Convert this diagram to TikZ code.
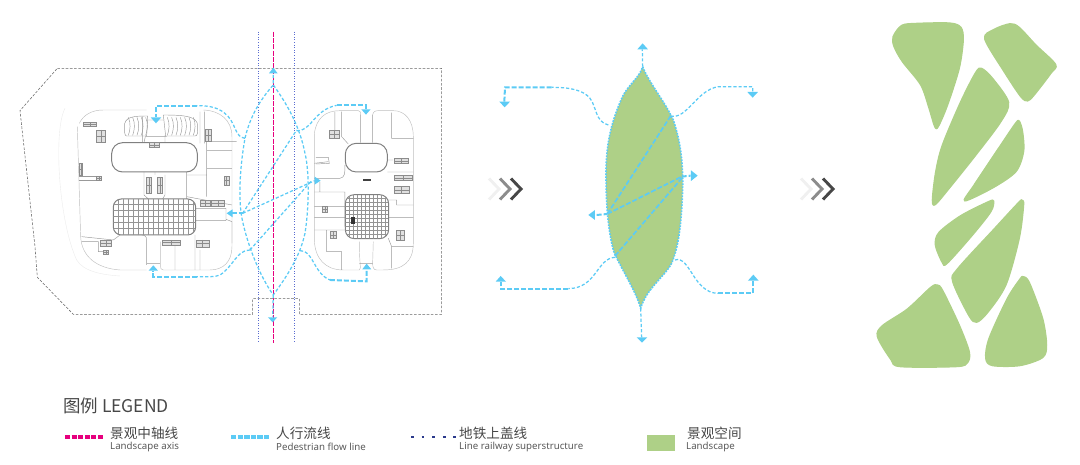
\documentclass[tikz,border=0pt]{standalone}
\usepackage{fontspec}
\setmainfont{Noto Sans}
\newfontfamily\cjk{Noto Sans CJK SC}
\definecolor{flow}{HTML}{5CCBF5}
\definecolor{leaf}{HTML}{AED087}
\definecolor{axisc}{HTML}{E6007E}
\definecolor{rail}{HTML}{5A6CD0}
\definecolor{railkey}{HTML}{2B3A8C}
\tikzset{
 flowline/.style={draw=flow,line width=2pt,dash pattern=on 5pt off 2pt},
 flowthin/.style={draw=flow,line width=1.25pt,dash pattern=on 3.2pt off 2pt},
 flowhead/.style={fill=flow,draw=none},
 site/.style={draw=black!60,line width=.55pt,dash pattern=on 2.6pt off 1.6pt},
 railline/.style={draw=rail,line width=.8pt,dash pattern=on .9pt off 1.7pt},
 axisline/.style={draw=axisc,line width=1.2pt,dash pattern=on 5pt off 1.3pt},
 wallline/.style={draw=black!40,line width=.45pt},
 outline/.style={draw=black!25,line width=.45pt},
 faint/.style={draw=black!8,line width=.4pt},
 heavy/.style={draw=black!50,line width=1pt},
 grid/.style={draw=black!42,line width=.35pt},
 room/.style={draw=black!45,line width=.4pt,fill=black!12},
 blob/.style={fill=leaf,draw=leaf,line width=1.2pt,line join=round},
 zh/.style={inner sep=0pt,anchor=west,font=\cjk\fontsize{13.6}{14}\selectfont,text=black!72},
 en/.style={inner sep=0pt,anchor=west,font=\fontsize{9.7}{10}\selectfont,text=black!65},
}
\newcommand{\chev}[3]{\draw[draw=#3,line width=2.9pt] (#1,#2-10.5) -- (#1+10,#2) -- (#1,#2+10.5);}
\begin{document}
\begin{tikzpicture}[x=1pt,y=-1pt]
\useasboundingbox (0,0) rectangle (1080,464);
% ---------- plan
\begin{scope}[x=.3333pt,y=-.3333pt,xshift=20pt,yshift=-20pt]
 \draw[site] (112,145) -- (1265,145) -- (1265,883) -- (838,883) -- (838,836) -- (698,836) -- (698,883) -- (160,883) -- (52,772) -- (45,680) -- (0,272) -- cycle;
 % left building
 \draw[outline] (178,310) .. controls (190,285) and (215,270) .. (250,270) -- (380,270);
 \draw[outline] (550,270) .. controls (600,272) and (636,300) .. (636,350) -- (636,680) .. controls (636,725) and (610,750) .. (570,750) -- (430,750) .. controls (422,750) and (422,745) .. (422,735) -- (422,665);
 \draw[outline] (172,320) -- (182,650) .. controls (185,710) and (230,745) .. (300,750) -- (380,750);
 \draw[faint] (135,265) .. controls (100,330) and (115,600) .. (170,720) .. controls (190,755) and (250,765) .. (300,768);
 \draw[wallline] (380,735) -- (380,660) .. controls (380,650) and (375,645) .. (365,645) -- (300,645) -- (280,660) -- (185,650) (185,665) -- (235,665) -- (235,695) -- (262,695)
   (380,730) -- (420,730) (465,675) -- (465,750) (525,665) -- (525,750) (540,690) -- (540,750) (525,645) -- (525,665)
   (540,275) -- (540,370) (553,275) -- (553,370) 
   (368,290) -- (368,368) (435,345) -- (435,368) (560,365) -- (650,365) (560,392) -- (636,392) (560,445) -- (636,445) (560,365) -- (560,465) -- (500,465) -- (500,530) (560,465) -- (560,530)
   (528,602) -- (618,602) -- (618,565) -- (528,565) (618,598) -- (636,605) -- (636,670) (500,456) -- (500,537)
   (372,456) -- (372,525) -- (385,537) (435,465) -- (435,525) -- (428,537) (405,456) -- (405,465)
   (500,530) -- (636,555);
 % left fan
 \draw[wallline] (313,320) .. controls (313,290) and (340,288) .. (383,288) -- (380,348) -- (320,348) .. controls (315,348) and (313,340) .. (313,320);
 \draw[wallline] (533,318) .. controls (533,290) and (500,285) .. (430,285) -- (437,348) -- (525,348) .. controls (533,348) and (533,340) .. (533,318);
 \foreach \x in {325,338,351,364,377,442,455,468,481,494,507,520}{\draw[wallline] (\x,292) .. controls (\x+8,310) and (\x+6,330) .. (\x,346);}
 \draw[wallline] (383,300) -- (430,300) (376,350) -- (440,350) (376,350) -- (372,368);
 % left rounded hall
 \draw[heavy,rounded corners=11pt] (275,368) rectangle (532,456);
 % left atrium
 \draw[heavy,rounded corners=8pt] (280,537) rectangle (527,645);
 \begin{scope}
  \clip[rounded corners=8pt] (280,537) rectangle (527,645);
  \foreach \x in {295,310,...,520}{\draw[grid] (\x,537) -- (\x,645);}
  \foreach \y in {552,570,588,606,624}{\draw[grid] (280,\y) -- (527,\y);}
 \end{scope}
 % left rooms
 \foreach \a/\b/\c/\d in {388/368/418/382, 230/330/255/368, 555/328/575/365, 380/472/395/520, 412/472/428/520, 542/542/572/558, 575/542/612/558, 612/468/627/495, 427/660/480/675, 528/660/568/682, 240/660/275/678, 250/690/265/702, 178/430/186/465, 228/468/245/482, 190/308/230/318}{
   \draw[room] (\a,\b) rectangle (\c,\d);
   \draw[draw=black!45,line width=.3pt] (\a,{(\b+\d)/2}) -- (\c,{(\b+\d)/2}) ({(\a+\c)/2},\b) -- ({(\a+\c)/2},\d);}
 \draw[wallline] (178,468) -- (228,468) (178,482) -- (228,482);
 % right building
 \draw[outline] (883,340) .. controls (890,295) and (915,272) .. (960,272) -- (1015,272) .. controls (1022,272) and (1022,278) .. (1022,285);
 \draw[outline] (1058,285) .. controls (1060,275) and (1065,272) .. (1075,272) -- (1120,272) .. controls (1155,272) and (1180,300) .. (1180,350) -- (1180,670) .. controls (1180,725) and (1150,750) .. (1090,750) -- (1070,750) .. controls (1060,750) and (1058,740) .. (1058,730) -- (1060,665);
 \draw[outline] (883,340) -- (883,660) .. controls (885,715) and (915,750) .. (970,750) -- (1018,750) .. controls (1025,745) and (1018,735) .. (1018,665);
 \draw[wallline] (965,275) -- (965,350) -- (985,372) (945,275) -- (945,330) (1022,285) -- (1022,368) (1058,285) -- (1058,368) (1115,278) -- (1115,355) -- (1180,355)
   (1102,420) -- (1120,420) (1102,456) -- (1180,456) (883,430) -- (925,425)
   (883,516) -- (975,516) -- (975,620) (883,475) -- (960,475) .. controls (975,472) and (975,460) .. (975,435)
   (900,485) -- (900,516)
   (883,560) -- (975,560) (883,592) -- (975,592) (883,630) -- (975,630) (920,630) -- (920,695) -- (965,695) -- (965,750)
   (1105,540) -- (1130,540) -- (1130,555) -- (1180,555) (1105,592) -- (1180,592) (1105,655) -- (1115,680) -- (1180,680) (1115,680) -- (1115,745)
   (1018,730) -- (1058,730);
 \draw[heavy,rounded corners=11pt] (976,370) rectangle (1102,456);
 \draw[heavy,rounded corners=9pt] (976,524) rectangle (1106,656);
 \begin{scope}
  \clip[rounded corners=9pt] (976,524) rectangle (1106,656);
  \foreach \x in {988,1000,...,1100}{\draw[grid] (\x,524) -- (\x,656);}
  \foreach \y in {536,548,...,650}{\draw[grid] (976,\y) -- (1106,\y);}
 \end{scope}
 \fill[black!80] (992,590) rectangle (1004,612);
 \fill[black!75] (1028,476) rectangle (1052,482);
 \foreach \a/\b/\c/\d in {928/332/958/355, 1122/415/1165/430, 1122/467/1178/482, 1122/500/1168/520, 908/560/922/576, 930/635/948/655, 1128/632/1152/660}{
   \draw[room] (\a,\b) rectangle (\c,\d);
   \draw[draw=black!45,line width=.3pt] (\a,{(\b+\d)/2}) -- (\c,{(\b+\d)/2}) ({(\a+\c)/2},\b) -- ({(\a+\c)/2},\d);}
 \draw[wallline] (888,412) -- (925,412) -- (928,430) -- (888,432);
 % rail and axis
 \draw[railline] (714,35) -- (714,970);
 \draw[railline] (824,35) -- (824,970);
 \draw[axisline] (760,35) -- (760,970);
 % flows
 \draw[flowthin] (760,165) -- (760,195) .. controls (720,240) and (690,290) .. (675,355) .. controls (660,440) and (655,530) .. (665,590) .. controls (680,670) and (720,770) .. (760,825) .. controls (800,770) and (840,710) .. (855,640) .. controls (868,560) and (868,450) .. (855,400) .. controls (840,320) and (800,250) .. (760,195);
 \draw[flowthin] (760,825) -- (758,890);
 \draw[flowline] (635,580) -- (668,580);
 \draw[flowthin] (668,580) -- (830,330);
 \draw[flowthin] (668,580) -- (884,482);
 \draw[flowthin] (690,690) -- (875,482);
 \draw[flowthin] (675,355) .. controls (645,350) and (650,320) .. (625,290) .. controls (600,262) and (570,257) .. (530,257);
 \draw[flowline] (530,257) -- (408,257) -- (408,292);
 \draw[flowthin] (830,332) .. controls (875,335) and (880,270) .. (950,256);
 \draw[flowline] (950,256) -- (1038,256) -- (1038,268);
 \draw[flowthin] (690,690) .. controls (650,690) and (640,740) .. (600,765) .. controls (585,772) and (560,770) .. (530,770);
 \draw[flowline] (530,770) -- (400,770) -- (400,752);
 \draw[flowthin] (840,692) .. controls (880,690) and (880,760) .. (930,780);
 \draw[flowline] (930,780) -- (1040,784) -- (1040,748);
 % heads
 \fill[flowhead] (747,160) -- (773,160) -- (760,143) -- cycle;
 \fill[flowhead] (744,892) -- (772,892) -- (758,907) -- cycle;
 \fill[flowhead] (392,292) -- (424,292) -- (408,310) -- cycle;
 \fill[flowhead] (1024,268) -- (1052,268) -- (1038,284) -- cycle;
 \fill[flowhead] (386,752) -- (414,752) -- (400,736) -- cycle;
 \fill[flowhead] (1027,748) -- (1054,748) -- (1040,731) -- cycle;
 \fill[flowhead] (638,568) -- (638,592) -- (620,580) -- cycle;
 \fill[flowhead] (884,470) -- (884,494) -- (902,482) -- cycle;
\end{scope}
% ---------- chevrons
\chev{489}{189}{black!6}
\chev{500}{189}{black!45}
\chev{511}{189}{black!72}
\chev{801}{189}{black!6}
\chev{812}{189}{black!45}
\chev{823}{189}{black!72}
% ---------- leaf
\begin{scope}[x=.3333pt,y=-.3333pt,xshift=480pt,yshift=-30pt]
 \path[fill=leaf] (488,110) .. controls (505,155) and (555,215) .. (580,270) .. controls (600,330) and (610,390) .. (608,480) .. controls (605,560) and (600,640) .. (575,700) .. controls (550,745) and (500,775) .. (482,835) .. controls (470,790) and (435,735) .. (403,670) .. controls (385,610) and (378,530) .. (378,430) .. controls (378,340) and (395,270) .. (430,195) .. controls (450,160) and (480,140) .. (488,110) -- cycle;
 \draw[flowthin,line width=1.6pt,dash pattern=on 1.8pt off 1.2pt] (488,110) .. controls (505,155) and (555,215) .. (580,270) .. controls (600,330) and (610,390) .. (608,480) .. controls (605,560) and (600,640) .. (575,700) .. controls (550,745) and (500,775) .. (482,835) .. controls (470,790) and (435,735) .. (403,670) .. controls (385,610) and (378,530) .. (378,430) .. controls (378,340) and (395,270) .. (430,195) .. controls (450,160) and (480,140) .. (488,110) -- cycle;
 \draw[flowline] (350,555) -- (382,552);
 \draw[flowline,line width=1.7pt] (382,552) -- (572,258);
 \draw[flowline,line width=1.7pt] (382,552) -- (605,440);
 \draw[flowline] (605,440) -- (632,437);
 \draw[flowline,line width=1.7pt] (405,678) -- (605,445);
 \draw[flowthin] (488,110) -- (487,58);
 \draw[flowthin] (482,835) -- (485,922);
 \draw[flowthin] (385,285) .. controls (345,275) and (350,230) .. (330,205) .. controls (310,180) and (270,172) .. (215,172);
 \draw[flowline] (215,172) -- (75,172) -- (73,215);
 \draw[flowthin] (572,258) .. controls (620,270) and (650,180) .. (715,170) -- (818,170) -- (818,188);
 \draw[flowthin] (405,682) .. controls (350,685) and (350,775) .. (265,776);
 \draw[flowline] (265,776) -- (62,776) -- (62,755);
 \draw[flowthin] (585,690) .. controls (630,675) and (640,790) .. (715,790);
 \draw[flowline] (715,790) -- (820,790) -- (820,752);
 \fill[flowhead] (472,58) -- (504,58) -- (488,40) -- cycle;
 \fill[flowhead] (470,922) -- (502,922) -- (486,938) -- cycle;
 \fill[flowhead] (58,215) -- (90,215) -- (74,232) -- cycle;
 \fill[flowhead] (802,186) -- (834,186) -- (818,203) -- cycle;
 \fill[flowhead] (47,755) -- (78,755) -- (62,738) -- cycle;
 \fill[flowhead] (804,752) -- (836,752) -- (820,734) -- cycle;
 \fill[flowhead] (345,540) -- (345,570) -- (325,555) -- cycle;
 \fill[flowhead] (633,421) -- (633,453) -- (653,437) -- cycle;
\end{scope}
% ---------- landscape blobs
\begin{scope}[x=.3333pt,y=-.3333pt,xshift=860pt,yshift=-15pt]
 \filldraw[blob] plot[smooth cycle,tension=.5] coordinates {(99,65)(125,31)(170,25)(270,24)(303,37)(310,75)(298,160)(263,270)(235,335)(224,335)(207,280)(182,210)(127,140)(102,95)};
 \filldraw[blob] plot[smooth cycle,tension=.5] coordinates {(374,72)(400,44)(450,26)(478,37)(528,90)(587,148)(573,175)(523,240)(503,258)(482,245)(432,170)};
 \filldraw[blob] plot[smooth cycle,tension=.5] coordinates {(365,160)(398,190)(446,262)(423,320)(348,420)(268,520)(226,569)(217,555)(227,470)(247,390)(302,260)(347,172)};
 \filldraw[blob] plot[smooth cycle,tension=.5] coordinates {(478,318)(488,350)(491,410)(468,470)(400,518)(314,558)(342,510)(422,390)(467,324)};
 \filldraw[blob] plot[smooth cycle,tension=.5] coordinates {(401,558)(393,590)(338,660)(262,745)(247,743)(226,690)(237,652)(302,602)(385,560)};
 \filldraw[blob] plot[smooth cycle,tension=.5] coordinates {(486,556)(491,570)(478,670)(438,810)(383,893)(350,922)(327,903)(278,800)(292,762)(402,642)(476,562)};
 \filldraw[blob] plot[smooth cycle,tension=.5] coordinates {(232,810)(248,826)(298,930)(328,1010)(323,1043)(290,1055)(120,1055)(92,1033)(52,965)(67,932)(142,882)(212,817)};
 \filldraw[blob] plot[smooth cycle,tension=.5] coordinates {(490,785)(508,802)(548,910)(560,990)(548,1028)(480,1052)(397,1052)(377,1030)(387,970)(442,850)(480,792)};
\end{scope}
% ---------- legend
\node[zh,font=\cjk\fontsize{17.5}{18}\selectfont] (legendTitle) at (63,406) {图例 LEGEND};
\coordinate (a1) at (65,437); \coordinate (a2) at (104,437);
\draw[draw=axisc,line width=3.4pt,dash pattern=on 5pt off 1.6pt] (a1) -- (a2);
\node[zh] (t1) at (110,433) {景观中轴线};
\node[en] (e1) at (110,447) {Landscape axis};
\coordinate (b1) at (231,437); \coordinate (b2) at (270,437);
\draw[draw=flow,line width=3.4pt,dash pattern=on 5.4pt off 1.2pt] (b1) -- (b2);
\node[zh] (t2) at (276,433) {人行流线};
\node[en] (e2) at (276,447) {Pedestrian flow line};
\coordinate (c1) at (411,437); \coordinate (c2) at (456,437);
\draw[draw=railkey,line width=2.8pt,dash pattern=on 2.8pt off 7.8pt] (c1) -- (c2);
\node[zh] (t3) at (459,433) {地铁上盖线};
\node[en] (e3) at (459,447) {Line railway superstructure};
\node[fill=leaf,minimum width=28pt,minimum height=16pt,inner sep=0pt] (sw) at (661,443) {};
\node[zh] (t4) at (687,433) {景观空间};
\node[en] (e4) at (686,447) {Landscape};
\end{tikzpicture}
\end{document}
